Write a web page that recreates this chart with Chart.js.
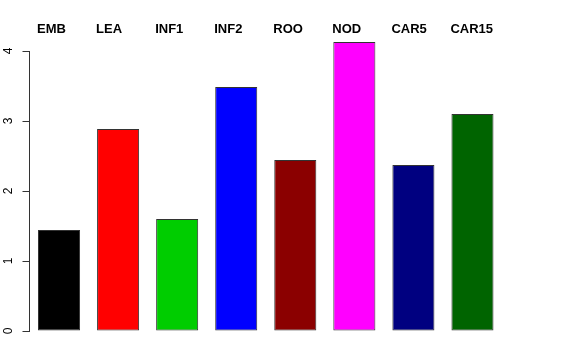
<!DOCTYPE html>
<html>
<head>
<meta charset="utf-8">
<script src="https://cdn.jsdelivr.net/npm/chart.js@4"></script>
<style>
  html, body { margin: 0; padding: 0; background: #fff; }
  #wrap { width: 576px; height: 360px; }
</style>
</head>
<body>
<div id="wrap"><canvas id="chart"></canvas></div>
<script>
const categories = ['EMB', 'LEA', 'INF1', 'INF2', 'ROO', 'NOD', 'CAR5', 'CAR15'];
const values = [1.443, 2.886, 1.6, 3.486, 2.443, 4.129, 2.371, 3.1];
const barColors = ['#000000', '#FF0000', '#00CD00', '#0000FF', '#8B0000', '#FF00FF', '#000080', '#006400'];
const tickLabels = [0, 1, 2, 3, 4];

// axis line, rotated y labels and the category names above the bars
const rAxisPlugin = {
  id: 'rAxis',
  afterDraw(chart) {
    const ctx = chart.ctx;
    const y = chart.scales.y;
    const x0 = chart.chartArea.left;

    ctx.save();
    ctx.strokeStyle = '#333';
    ctx.lineWidth = 1;
    ctx.beginPath();
    ctx.moveTo(x0, y.getPixelForValue(tickLabels[0]));
    ctx.lineTo(x0, y.getPixelForValue(tickLabels[tickLabels.length - 1]));
    ctx.stroke();

    ctx.fillStyle = '#000';
    ctx.font = '12px "Liberation Sans", Arial, sans-serif';
    ctx.textAlign = 'center';
    ctx.textBaseline = 'alphabetic';
    tickLabels.forEach(v => {
      ctx.save();
      ctx.translate(12, y.getPixelForValue(v));
      ctx.rotate(-Math.PI / 2);
      ctx.fillText(String(v), 0, 0);
      ctx.restore();
    });

    ctx.font = 'bold 13px "Liberation Sans", Arial, sans-serif';
    ctx.textAlign = 'left';
    const bars = chart.getDatasetMeta(0).data;
    bars.forEach((bar, i) => {
      ctx.fillText(categories[i], bar.x - bar.width / 2 - 1, 33);
    });
    ctx.restore();
  }
};

new Chart(document.getElementById('chart'), {
  type: 'bar',
  data: {
    labels: categories,
    datasets: [{
      data: values,
      backgroundColor: barColors,
      borderColor: '#333',
      borderWidth: 1,
      borderSkipped: false,
      barPercentage: 0.712,
      categoryPercentage: 1
    }]
  },
  options: {
    responsive: true,
    maintainAspectRatio: false,
    animation: false,
    layout: { padding: { top: 30, bottom: 29, left: 0, right: 74 } },
    plugins: {
      legend: { display: false },
      tooltip: { enabled: false }
    },
    scales: {
      x: { display: false },
      y: {
        min: 0,
        max: 4.3,
        afterFit(scale) { scale.width = 29.5; },
        afterBuildTicks(scale) { scale.ticks = tickLabels.map(v => ({ value: v })); },
        border: { display: false },
        grid: { drawOnChartArea: false, tickLength: 7, color: '#333' },
        ticks: { display: false }
      }
    }
  },
  plugins: [rAxisPlugin]
});
</script>
</body>
</html>
